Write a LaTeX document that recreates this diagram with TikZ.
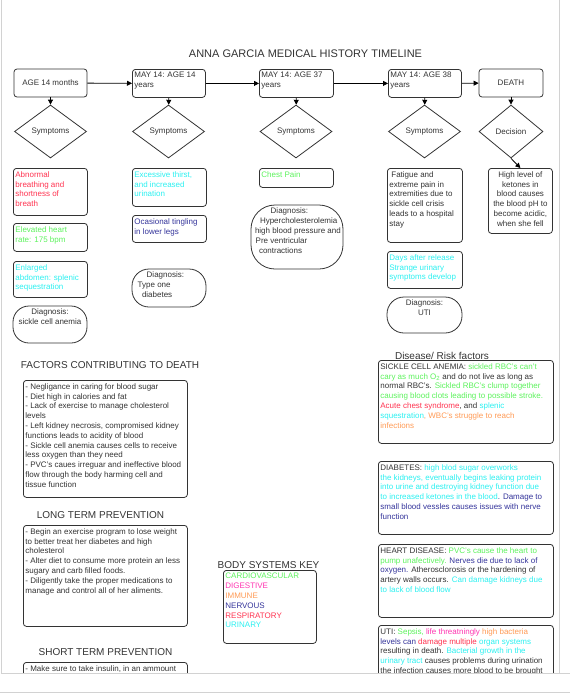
\documentclass[tikz,border=0pt]{standalone}
\usepackage{fontspec}
\setmainfont{Liberation Sans}
\usetikzlibrary{shapes.geometric,arrows.meta}

\definecolor{ink}{HTML}{333333}
\definecolor{cardio}{HTML}{5CF25C}
\definecolor{digest}{HTML}{FF33B0}
\definecolor{immune}{HTML}{FF9A55}
\definecolor{nerve}{HTML}{33339A}
\definecolor{resp}{HTML}{FF3350}
\definecolor{urin}{HTML}{2AF0F0}

\newcommand{\tbx}[3]{\parbox[t][#2][t]{#1}{\raggedright #3}}
\newcommand{\cbx}[3]{\parbox[t][#2][t]{#1}{\centering #3}}

\begin{document}
\begin{tikzpicture}[x=1pt,y=-1pt,
  every node/.style={font=\fontsize{8}{9.8}\selectfont,text=ink},
  box/.style={draw=ink,line width=0.8pt,rounded corners=3pt,inner xsep=2pt,inner ysep=3pt,anchor=north west},
  pill/.style={draw=ink,line width=0.8pt,inner xsep=2pt,inner ysep=3pt},
  dmd/.style={diamond,draw=ink,line width=0.8pt,inner sep=0pt,minimum height=53pt},
  head/.style={font=\fontsize{10}{12}\selectfont},
  arr/.style={draw=black,line width=0.8pt,-{Triangle[length=5pt,width=5pt]}}]
\useasboundingbox (0,0) rectangle (570,694);

\begin{scope}
\clip (0,0) rectangle (559,673);

\node[head,font=\fontsize{11}{13}\selectfont] (title) at (305.5,53.5) {ANNA GARCIA MEDICAL HISTORY TIMELINE};

\node[box,anchor=center,minimum width=73pt,minimum height=28pt] (age1) at (50.5,83) {AGE 14 months};
\node[box] (age2) at (132,69) {\tbx{69pt}{22pt}{MAY 14: AGE 14\\years}};
\node[box] (age3) at (259,69) {\tbx{70pt}{22pt}{MAY 14: AGE 37\\years}};
\node[box] (age4) at (388,69) {\tbx{69pt}{22pt}{MAY 14: AGE 38\\years}};
\node[box,anchor=center,minimum width=64pt,minimum height=28pt] (death) at (511,83) {DEATH};

\draw[arr] (age1) -- (age2);
\draw[arr] (age2) -- (age3);
\draw[arr] (age3) -- (age4);
\draw[arr] (age4) -- (death);

\node[dmd,minimum width=72pt] (sym1) at (50.5,131.5) {Symptoms};
\node[dmd,minimum width=72pt] (sym2) at (168.5,131.5) {Symptoms};
\node[dmd,minimum width=72pt] (sym3) at (296,131.5) {Symptoms};
\node[dmd,minimum width=72pt] (sym4) at (424.5,131.5) {Symptoms};
\node[dmd,minimum width=64pt] (decide) at (511,131.5) {Decision};

\draw[arr] (age1) -- (sym1);
\draw[arr] (age2) -- (sym2);
\draw[arr] (age3) -- (sym3);
\draw[arr] (age4) -- (sym4);
\draw[arr] (death) -- (decide);

% age 14 months
\node[box] (breath) at (13,168) {\tbx{70pt}{41pt}{\textcolor{resp}{Abnormal\\breathing and\\shortness of\\breath}}};
\node[box] (pulse) at (13,223) {\tbx{70pt}{22pt}{\textcolor{cardio}{Elevated heart\\rate: 175 bpm}}};
\node[box] (abdomen) at (13,261) {\tbx{70pt}{30pt}{\textcolor{urin}{Enlarged\\abdomen: splenic\\sequestration}}};
\node[pill,rounded corners=16pt] (dx1) at (50,324.5) {\cbx{70pt}{31pt}{Diagnosis:\\sickle cell anemia}};

% age 14 years
\node[box] (thirst) at (132,168) {\tbx{70pt}{32pt}{\textcolor{urin}{Excessive thirst,\\and increased\\urination}}};
\node[box] (tingle) at (132,215) {\tbx{70pt}{21pt}{\textcolor{nerve}{Ocasional tingling\\in lower legs}}};
\node[pill,rounded corners=17pt] (dx2) at (169,288) {\tbx{70pt}{32pt}{\hspace*{12.7pt}Diagnosis:\\\hspace*{3.7pt}Type one\\\hspace*{8pt}diabetes}};

% age 37
\node[box] (chest) at (259,168) {\tbx{70pt}{13pt}{\textcolor{cardio}{Chest Pain}}};
\node[pill,rounded corners=24pt,inner xsep=1pt] (dx3) at (297,237) {\tbx{90pt}{58pt}{\hspace*{18.7pt}Diagnosis:\\\hspace*{8pt}Hypercholesterolemia\\\hspace*{3pt}high blood pressure and\\\hspace*{3.7pt}Pre ventricular\\\hspace*{7pt}contractions}};

% age 38
\node[box] (fatigue) at (387,168) {\tbx{71pt}{68pt}{\hspace*{2pt}Fatigue and\\extreme pain in\\extremities due to\\sickle cell crisis\\leads to a hospital\\stay}};
\node[box] (release) at (387,251) {\tbx{71pt}{31pt}{\textcolor{urin}{Days after release\\Strange urinary\\symptoms develop}}};
\node[pill,rounded corners=17pt] (dx4) at (424.5,315) {\cbx{71pt}{30pt}{Diagnosis:\\UTI}};

% death
\node[box] (ketones) at (488,168) {\cbx{60pt}{59pt}{High level of\\ketones in\\blood causes\\the blood pH to\\become acidic,\\when she fell}};
\draw[arr] (decide.south) -- (ketones.north);

\node[head] (facthead) at (110,365) {FACTORS CONTRIBUTING TO DEATH};
\node[box] (factors) at (23,380) {\tbx{160pt}{111pt}{- Negligance in caring for blood sugar\\
- Diet high in calories and fat\\
- Lack of exercise to manage cholesterol\\levels\\
- Left kidney necrosis, compromised kidney\\functions leads to acidity of blood\\
- Sickle cell anemia causes cells to receive\\less oxygen than they need\\
- PVC's caues irreguar and ineffective blood\\flow through the body harming cell and\\tissue function}};

\node[head] (longhead) at (100.5,515) {LONG TERM PREVENTION};
\node[box] (longterm) at (23,525) {\tbx{160pt}{95pt}{- Begin an exercise program to lose weight\\to better treat her diabetes and high\\cholesterol\\
- Alter diet to consume more protein an less\\sugary and carb filled foods.\\
- Diligently take the proper medications to\\manage and control all of her aliments.}};

\node[head] (shorthead) at (105.5,652) {SHORT TERM PREVENTION};
\node[box] (shortterm) at (23,662) {\tbx{160pt}{60pt}{- Make sure to take insulin, in an ammount}};

\node[head] (keyhead) at (268.5,565) {BODY SYSTEMS KEY};
\node[box] (key) at (223,570) {\tbx{89pt}{67pt}{\textcolor{cardio}{CARDIOVASCULAR}\\\textcolor{digest}{DIGESTIVE}\\\textcolor{immune}{IMMUNE}\\\textcolor{nerve}{NERVOUS}\\\textcolor{resp}{RESPIRATORY}\\\textcolor{urin}{URINARY}}};

\node[head] (riskhead) at (442,356) {Disease/ Risk factors};
\node[box] (sickle) at (378,360) {\tbx{171pt}{77pt}{SICKLE CELL ANEMIA: \textcolor{cardio}{sickled RBC's can't}\\
\textcolor{cardio}{cary as much O\textsubscript{2}} and do not live as long as\\
normal RBC's. \textcolor{cardio}{Sickled RBC's clump together}\\
\textcolor{cardio}{causing blood clots leading to possible stroke.}\\
\textcolor{resp}{Acute chest syndrome}, and \textcolor{urin}{splenic}\\
\textcolor{urin}{squestration}\textcolor{immune}{, WBC's struggle to reach}\\
\textcolor{immune}{infections}}};
\node[box] (diabetes) at (378,461) {\tbx{171pt}{67pt}{DIABETES: \textcolor{urin}{high blod sugar overworks}\\
\textcolor{urin}{the kidneys, eventually begins leaking protein}\\
\textcolor{urin}{into urine and destroying kidney function due}\\
\textcolor{urin}{to increased ketones in the blood}\textcolor{nerve}{. Damage to}\\
\textcolor{nerve}{small blood vessles causes issues with nerve}\\
\textcolor{nerve}{function}}};
\node[box] (heartdis) at (378,544) {\tbx{171pt}{67pt}{HEART DISEASE: \textcolor{cardio}{PVC's cause the heart to}\\
\textcolor{cardio}{pump unafectively.} \textcolor{nerve}{Nerves die due to lack of}\\
\textcolor{nerve}{oxygen.} Atherosclorosis or the hardening of\\
artery walls occurs. \textcolor{urin}{Can damage kidneys due}\\
\textcolor{urin}{to lack of blood flow}}};
\node[box] (uti) at (378,625) {\tbx{171pt}{80pt}{UTI: \textcolor{cardio}{Sepsis,} \textcolor{digest}{life threatningly} \textcolor{immune}{high bacteria}\\
\textcolor{nerve}{levels can} \textcolor{resp}{damage multiple} \textcolor{urin}{organ systems}\\
resulting in death. \textcolor{urin}{Bacterial growth in the}\\
\textcolor{urin}{urinary tract} causes problems during urination\\
the infection causes more blood to be brought}};
\end{scope}

\draw[gray!35] (1.5,0) -- (1.5,673) -- (570,673);
\draw[gray!35] (559,0) -- (559,673);
\draw[gray!35] (0,692.5) -- (570,692.5);
\end{tikzpicture}
\end{document}
